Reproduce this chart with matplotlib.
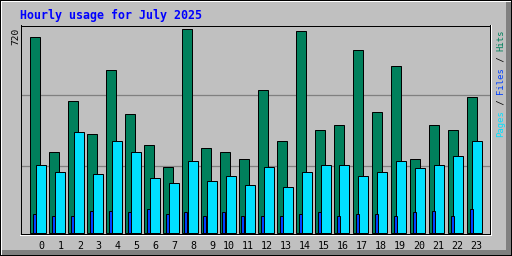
import numpy as np
import matplotlib
matplotlib.use("Agg")
import matplotlib.pyplot as plt
from matplotlib.patches import Rectangle
from matplotlib.lines import Line2D

W, H = 512, 256

hours = np.arange(24)
hits = [695, 287, 468, 348, 575, 419, 309, 234, 720, 298, 284, 262,
        507, 326, 716, 365, 383, 649, 426, 592, 259, 380, 362, 482]
pages = [241, 213, 358, 209, 323, 287, 192, 177, 252, 181, 202, 170,
         231, 163, 213, 241, 238, 199, 216, 252, 227, 238, 273, 326]
files = [67, 60, 60, 78, 78, 71, 82, 67, 71, 60, 74, 57,
         60, 60, 67, 71, 57, 67, 64, 60, 71, 78, 60, 85]
max_label = "720"
title = "Hourly usage for July 2025"

bg = "#C0C0C0"
c_hits = "#00805C"
c_pages = "#00E0FF"
c_files = "#0040FF"

fig = plt.figure(figsize=(W / 100, H / 100), dpi=100, facecolor=bg)


def fx(px):
    return px / W


def fy(py):
    return 1 - py / H


def box(x0, y0, w, h, color):
    # pixel box, y measured from the top
    fig.patches.append(Rectangle((fx(x0), fy(y0 + h)), w / W, h / H,
                                 transform=fig.transFigure, facecolor=color,
                                 edgecolor="none", antialiased=False))


# outer bevel
box(0, 0, W, 1, "black")
box(0, H - 1, W, 1, "black")
box(0, 0, 1, H, "black")
box(W - 1, 0, 1, H, "black")
box(1, 1, W - 2, 1, "white")
box(1, 1, 1, H - 2, "white")
box(2, 250, W - 3, 5, "#808080")
box(506, 2, 5, H - 3, "#808080")

# plot area: frame lines at col 20 / 489, rows 25 / 233
px_per_unit = 203 / 720
ax = fig.add_axes([fx(20.5), fy(233.5), 469 / W, 208 / H])
ax.set_facecolor(bg)
ax.set_xlim((20.5 - 29.5) / 19, (489.5 - 29.5) / 19)
ax.set_ylim(-1 / px_per_unit, 207 / px_per_unit)

for row in (95.5, 165.5):
    ax.axhline((232.5 - row) / px_per_unit, color="#808080", lw=0.9, zorder=0.5)

lw = 0.72
ax.bar(hours, hits, width=10 / 19, align="edge", color=c_hits,
       edgecolor="black", linewidth=lw, zorder=2)
ax.bar(hours + 6 / 19, pages, width=10 / 19, align="edge", color=c_pages,
       edgecolor="black", linewidth=lw, zorder=3)
ax.bar(hours + 3 / 19, files, width=3 / 19, align="edge", color=c_files,
       edgecolor="black", linewidth=lw, zorder=4)

for side in ("top", "left", "bottom", "right"):
    ax.spines[side].set_color("black")
    ax.spines[side].set_linewidth(lw)
ax.set_yticks([])
ax.set_xticks(hours + 15.3 / 19)
ax.set_xticklabels([str(h) for h in hours], family="DejaVu Sans Mono",
                   fontsize=7.2)
for lbl in ax.get_xticklabels():
    lbl.set_ha("right")
ax.tick_params(axis="x", length=0, pad=5.5)

# white highlight lines outside the frame
fig.add_artist(Line2D([fx(20), fx(491)], [fy(234.5), fy(234.5)],
                      color="white", lw=lw, transform=fig.transFigure))
fig.add_artist(Line2D([fx(490.5), fx(490.5)], [fy(25), fy(235)],
                      color="white", lw=lw, transform=fig.transFigure))

fig.text(fx(20), fy(19), title, color="#0000FF", family="DejaVu Sans Mono",
         weight="bold", fontsize=8.4, va="baseline", ha="left")

fig.text(fx(18.5), fy(45), max_label, rotation=90, rotation_mode="anchor",
         ha="left", va="baseline", family="DejaVu Sans Mono", fontsize=6.8,
         color="black")

parts = [("Pages", c_pages), (" / ", "black"), ("Files", c_files),
         (" / ", "black"), ("Hits", c_hits)]
adv = 5.35
pos = 137
for txt, col in parts:
    fig.text(fx(503.5), fy(pos), txt, rotation=90, rotation_mode="anchor",
             ha="left", va="baseline", family="DejaVu Sans Mono",
             fontsize=6.4, color=col)
    pos -= adv * len(txt)

fig.savefig("out.png", dpi=100, facecolor=bg)
